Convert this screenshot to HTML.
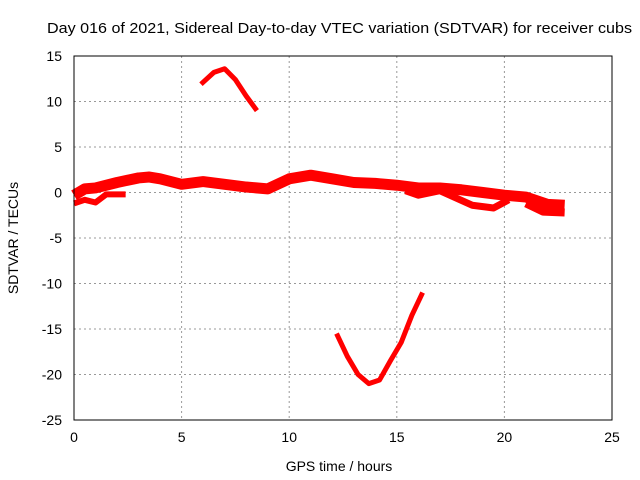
<!DOCTYPE html>
<html><head><meta charset="utf-8"><style>
body{margin:0;background:#fff}
svg{display:block;font-family:"Liberation Sans",sans-serif;font-size:14px}
</style></head><body>
<svg id="chart" width="640" height="480">
<text x="47" y="33" textLength="585" lengthAdjust="spacingAndGlyphs" fill="#000" style="font-size:15px">Day 016 of 2021, Sidereal Day-to-day VTEC variation (SDTVAR) for receiver cubs</text>
<g id="grid"></g>
<g id="series"></g>
<rect x="74" y="56" width="538" height="364" fill="none" stroke="#000"/>
<g id="ticks"></g>
<text x="339" y="471" text-anchor="middle">GPS time / hours</text>
<text transform="translate(18,238) rotate(-90)" text-anchor="middle">SDTVAR / TECUs</text>
</svg>
<script>
const xTicks=[0,5,10,15,20,25];
const yTicks=[15,10,5,0,-5,-10,-15,-20,-25];
const mainBand=[[0,-0.3],[0.5,0.4],[1,0.5],[2,1.1],[3,1.6],[3.5,1.7],[4,1.5],[5,0.9],[6,1.2],[7,0.9],[8,0.6],[9,0.4],[10,1.5],[11,1.9],[12,1.5],[13,1.1],[14,1.0],[15,0.8],[16,0.5],[17,0.5],[18,0.3],[19,0.0],[20,-0.3],[21,-0.5],[22,-1.3],[22.8,-1.4]];
const lowerBand1=[[0,-1.2],[0.5,-0.8],[1,-1.1],[1.5,-0.2],[2.4,-0.2]];
const lowerBand2=[[15.4,0.2],[16,-0.3],[17,0.2],[18.5,-1.4],[19.5,-1.7],[20.2,-0.8]];
const lowerBand3=[[21,-1.2],[21.8,-2.1],[22.8,-2.2]];
const upperArc=[[5.9,11.9],[6.5,13.2],[7,13.6],[7.5,12.4],[8,10.6],[8.5,9]];
const lowerArc=[[12.2,-15.5],[12.7,-18],[13.2,-20],[13.7,-21],[14.2,-20.6],[14.7,-18.5],[15.2,-16.5],[15.7,-13.5],[16.2,-11]];
const X=h=>74+h*538/25, Y=v=>56+(15-v)*364/40;
const NS="http://www.w3.org/2000/svg";
const grid=document.getElementById('grid'),ticks=document.getElementById('ticks'),ser=document.getElementById('series');
function mk(tag,attrs,parent){const e=document.createElementNS(NS,tag);for(const k in attrs)e.setAttribute(k,attrs[k]);parent.appendChild(e);return e;}
xTicks.forEach(t=>{
 if(t>0&&t<25){const l=mk('line',{x1:X(t),x2:X(t),y1:56,y2:420,stroke:'#999','stroke-dasharray':'2,3'},grid);
 
 }
 const tx=mk('text',{x:X(t),y:442,'text-anchor':'middle'},ticks);tx.textContent=t;
 
 
});
yTicks.forEach(t=>{
 if(t<15&&t>-25){const l=mk('line',{x1:74,x2:612,y1:Y(t),y2:Y(t),stroke:'#999','stroke-dasharray':'2,3'},grid);
 
 }
 const tx=mk('text',{x:62,y:Y(t)+5,'text-anchor':'end'},ticks);tx.textContent=t;
 
 
});
function draw(arr,name,w){
 const p=mk('polyline',{points:arr.map(d=>X(d[0])+','+Y(d[1])).join(' '),fill:'none',stroke:'#f00','stroke-width':w,'stroke-linejoin':'round'},ser);
 
 
}
draw(mainBand,'series-main-band',11);
draw(lowerBand1,'series-lower-band-1',6);
draw(lowerBand2,'series-lower-band-2',7);
draw(lowerBand3,'series-lower-band-3',8);
draw(upperArc,'series-upper-arc',5);
draw(lowerArc,'series-lower-arc',5);
</script>
</body></html>
